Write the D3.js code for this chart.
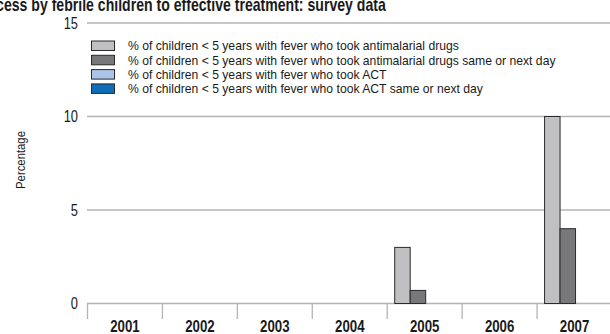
<!DOCTYPE html>
<html><head><meta charset="utf-8">
<script src="https://cdn.jsdelivr.net/npm/d3@7"></script>
<style>
body{margin:0;background:#fff;}
svg text{font-family:"Liberation Sans",Arial,sans-serif;fill:#1a1a1a;}
</style></head>
<body><svg id="c" width="610" height="334"></svg>
<script>
const title = "Access by febrile children to effective treatment: survey data";
const years = ["2001","2002","2003","2004","2005","2006","2007"];
const seriesNames = [
  "% of children < 5 years with fever who took antimalarial drugs",
  "% of children < 5 years with fever who took antimalarial drugs same or next day",
  "% of children < 5 years with fever who took ACT",
  "% of children < 5 years with fever who took ACT same or next day"
];
const antimalarial = [null,null,null,null,3,null,10];
const antimalarialSameDay = [null,null,null,null,0.7,null,4];
const act = [null,null,null,null,null,null,null];
const actSameDay = [null,null,null,null,null,null,null];
const yTicks = [0,5,10,15];
const colors = ["#c0c0c2","#78787a","#aac4ea","#0f6cb6"];

const series = [antimalarial, antimalarialSameDay, act, actSameDay];
const svg = d3.select("#c");
const x = d3.scaleBand().domain(years).range([87.5, 612]).paddingInner(0).paddingOuter(0);
const inner = d3.scaleBand().domain(d3.range(4)).range([7.5, x.bandwidth()-5.5]);
const y = d3.scaleLinear().domain([0,15]).range([303.5, 23]);

// condensed text helper: a group placed at (px,py), horizontally scaled
function ctext(parent, px, py, str, opts){
  const g = parent.append("g");
  const t = g.append("text").attr("x",0).attr("y",0)
    .attr("text-anchor",opts.anchor||"start")
    .attr("font-size",opts.size).attr("font-weight",opts.weight||"normal")
    .attr("dy",opts.dy||null).text(str);
  g.attr("transform",`translate(${px},${py}) ${opts.rotate?`rotate(${opts.rotate})`:""} scale(${opts.sx||0.8},1)`);
  return t;
}

// title: "Ac" falls off left edge
(function(){
  const fsz = 17.5, sx = 0.805;
  const tmp = svg.append("text").attr("font-size",fsz).attr("font-weight","bold").text(title);
  const W = tmp.node().getComputedTextLength();
  tmp.remove();
  const xEnd = 386;
  ctext(svg, xEnd - W*sx, 11, title, {size:fsz, weight:"bold", sx});
})();

// gridlines
svg.append("g").selectAll("line").data(yTicks).join("line")
  .attr("x1",87).attr("x2",610).attr("y1",d=>y(d)).attr("y2",d=>y(d))
  .attr("stroke","#b4b4b4").attr("stroke-width",1.3);

// y labels
yTicks.forEach(d=>ctext(svg, 78, y(d), d, {size:16.5, anchor:"end", dy:"0.36em", sx:0.78}));

ctext(svg, 25, 160, "Percentage", {size:13.5, anchor:"middle", rotate:-90, sx:0.84});

// x tick separators
const bounds = years.map(d=>x(d)).concat([x.range()[1]]);
svg.append("g").selectAll("line").data(bounds).join("line")
  .attr("x1",d=>d).attr("x2",d=>d).attr("y1",303.5).attr("y2",319)
  .attr("stroke","#b4b4b4").attr("stroke-width",1.3);

years.forEach(d=>ctext(svg, x(d)+x.bandwidth()/2, 332, d, {size:17, weight:"bold", anchor:"middle", sx:0.78}));

// bars
series.forEach((s,i)=>{
  svg.append("g").selectAll("rect").data(years.map((yr,j)=>({yr,v:s[j]})).filter(d=>d.v!=null)).join("rect")
    .attr("x",d=>x(d.yr)+inner(i)).attr("width",inner.bandwidth())
    .attr("y",d=>y(d.v)).attr("height",d=>y(0)-y(d.v))
    .attr("fill",colors[i]).attr("stroke","#2a2a2a").attr("stroke-width",1);
});

// legend
const lg = svg.append("g");
const lfs = 13.5;
const tmp = svg.append("text").attr("font-size",lfs).text(seriesNames[0]);
const lsx = 331 / tmp.node().getComputedTextLength();
tmp.remove();
seriesNames.forEach((n,i)=>{
  const cy = 45.5 + i*14.3;
  lg.append("rect").attr("x",91.5).attr("y",cy-4.5).attr("width",23).attr("height",9.5)
    .attr("fill",colors[i]).attr("stroke","#2a2a2a").attr("stroke-width",1);
  ctext(lg, 128, cy, n, {size:lfs, dy:"0.36em", sx:lsx});
});
</script></body></html>
